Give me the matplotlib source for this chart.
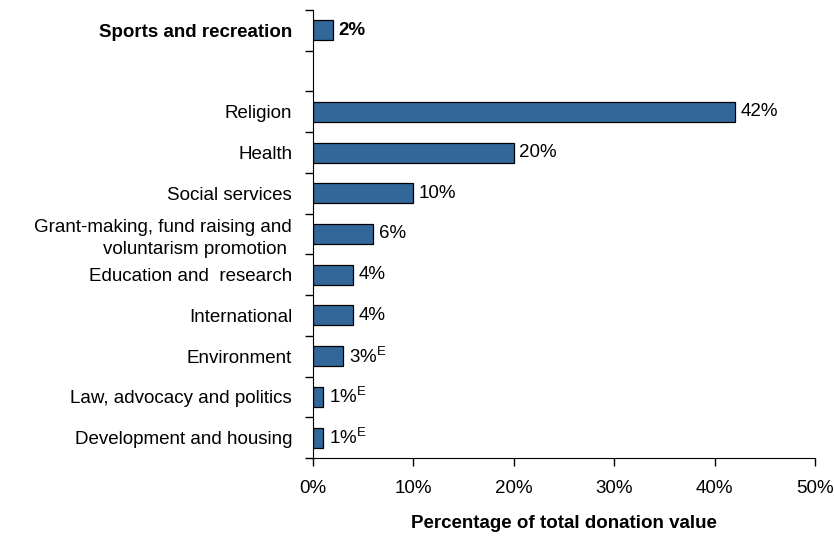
import matplotlib.pyplot as plt
import numpy as np

plt.rcParams['font.family'] = ['Liberation Sans', 'DejaVu Sans']
plt.rcParams['mathtext.fontset'] = 'custom'
plt.rcParams['mathtext.rm'] = 'Liberation Sans'

categories = ['Sports and recreation', '', 'Religion', 'Health', 'Social services',
              'Grant-making, fund raising and\nvoluntarism promotion ',
              'Education and  research', 'International', 'Environment',
              'Law, advocacy and politics', 'Development and housing']
values = [2, None, 42, 20, 10, 6, 4, 4, 3, 1, 1]
estimate = [False, False, False, False, False, False, False, False, True, True, True]
xticks = [0, 10, 20, 30, 40, 50]

fs = 13.5
fig = plt.figure(figsize=(8.34, 5.37), dpi=100)
ax = fig.add_axes([0.3753, 0.1471, 0.9772 - 0.3753, 0.9814 - 0.1471])

n = len(categories)
for i in range(n):
    v = values[i]
    if v is None:
        continue
    ax.barh(i, v, height=0.49, color='#336699', edgecolor='black', linewidth=0.9)
    txt = '%d%%' % v
    if estimate[i]:
        txt = txt + r'$^{\mathrm{E}}$'
    ax.annotate(txt, (v, i), xytext=(4, 0), textcoords='offset points',
                va='center', ha='left', fontsize=fs,
                fontweight='bold' if i == 0 else 'normal')

ax.set_ylim(n - 0.5, -0.5)
ax.set_xlim(0, 50)
ax.set_yticks(range(n))
ax.set_yticklabels(categories, fontsize=fs, multialignment='right', linespacing=1.35)
ax.get_yticklabels()[0].set_fontweight('bold')
ax.set_yticks(np.arange(-0.5, n, 1), minor=True)
ax.tick_params(axis='y', which='major', length=0, pad=15)
ax.tick_params(axis='y', which='minor', length=6, width=1, direction='out')

ax.set_xticks(xticks)
ax.set_xticklabels(['%d%%' % t for t in xticks], fontsize=fs)
ax.tick_params(axis='x', length=6, width=1, pad=10, direction='out')
ax.set_xlabel('Percentage of total donation value', fontsize=fs,
              fontweight='bold', labelpad=13)

ax.spines['right'].set_visible(False)
ax.spines['top'].set_visible(False)

fig.savefig('out.png', dpi=100)
